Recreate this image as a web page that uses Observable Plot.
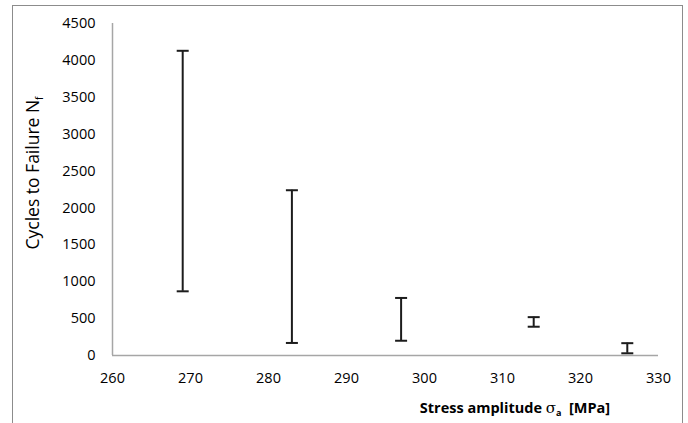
<!DOCTYPE html>
<html><head><meta charset="utf-8">
<script src="https://cdn.jsdelivr.net/npm/d3@7"></script>
<script src="https://cdn.jsdelivr.net/npm/@observablehq/plot@0.6"></script>
<style>
body{margin:0;background:#fff;}
#wrap{position:relative;width:688px;height:423px;overflow:hidden;background:#fff;}
#frame{position:absolute;left:12px;top:5px;width:671px;height:440px;border:1.5px solid #8c8c8c;box-sizing:border-box;}
#chart{position:absolute;left:0;top:0;}
</style></head><body>
<div id="wrap"><div id="frame"></div><div id="chart"></div></div>
<script>
// Data
const stress = [269, 283, 297, 314, 326];          // MPa
const cyclesMin = [870, 170, 200, 390, 30];        // lower end of range
const cyclesMax = [4130, 2240, 780, 520, 167];     // upper end of range
const xTicks = [260, 270, 280, 290, 300, 310, 320, 330];
const yTicks = [0, 500, 1000, 1500, 2000, 2500, 3000, 3500, 4000, 4500];
const yTitle = "Cycles to Failure N";
const yTitleSub = "f";
const xTitle = "Stress amplitude ";
const xTitleSym = "σ";
const xTitleSub = "a";
const xTitleEnd = "  [MPa]";

const data = stress.map((s, i) => ({stress: s, lo: cyclesMin[i], hi: cyclesMax[i]}));

const cap = {draw(ctx, size) { ctx.moveTo(-6, 0); ctx.lineTo(6, 0); }};
const barColor = "#1c1c1c";
const axisColor = "#a6a6a6";
const font = "'Open Sans'";

const chart = Plot.plot({
  width: 688, height: 423,
  marginLeft: 112, marginRight: 30, marginTop: 23, marginBottom: 68,
  style: {fontFamily: font, fontSize: "14.5px", background: "transparent", color: "#000", overflow: "visible"},
  x: {domain: [260, 330], ticks: xTicks, tickSize: 0, tickPadding: 17, label: null, tickFormat: d => String(d)},
  y: {domain: [0, 4500], ticks: yTicks, tickSize: 0, tickPadding: 17, label: null, tickFormat: d => String(d)},
  marks: [
    Plot.ruleX([xTicks[0]], {stroke: axisColor, strokeWidth: 1.5}),
    Plot.ruleY([yTicks[0]], {stroke: axisColor, strokeWidth: 1.5}),
    Plot.ruleX(data, {x: "stress", y1: "lo", y2: "hi", stroke: barColor, strokeWidth: 2}),
    Plot.dot(data, {x: "stress", y: "lo", symbol: cap, r: 6, fill: "none", stroke: barColor, strokeWidth: 2}),
    Plot.dot(data, {x: "stress", y: "hi", symbol: cap, r: 6, fill: "none", stroke: barColor, strokeWidth: 2})
  ]
});
document.getElementById("chart").appendChild(chart);

const svg = d3.select(chart);
const yt = svg.append("text")
  .attr("transform", "translate(39,173) rotate(-90)")
  .attr("text-anchor", "middle")
  .style("font-family", font).style("font-size", "17.5px").attr("fill", "#000");
yt.append("tspan").text(yTitle);
yt.append("tspan").text(yTitleSub).style("font-size", "10px").attr("dy", "4");

const xt = svg.append("text")
  .attr("x", 515).attr("y", 413)
  .attr("text-anchor", "middle")
  .style("font-family", font).style("font-size", "14.5px").style("font-weight", "bold").attr("fill", "#000");
xt.append("tspan").text(xTitle);
xt.append("tspan").text(xTitleSym).style("font-weight", "normal").style("font-family", "DejaVu Serif").style("font-size", "15px");
xt.append("tspan").text(xTitleSub).style("font-size", "9px").attr("dy", "3");
xt.append("tspan").text(xTitleEnd).attr("dy", "-3");
</script>
</body></html>
